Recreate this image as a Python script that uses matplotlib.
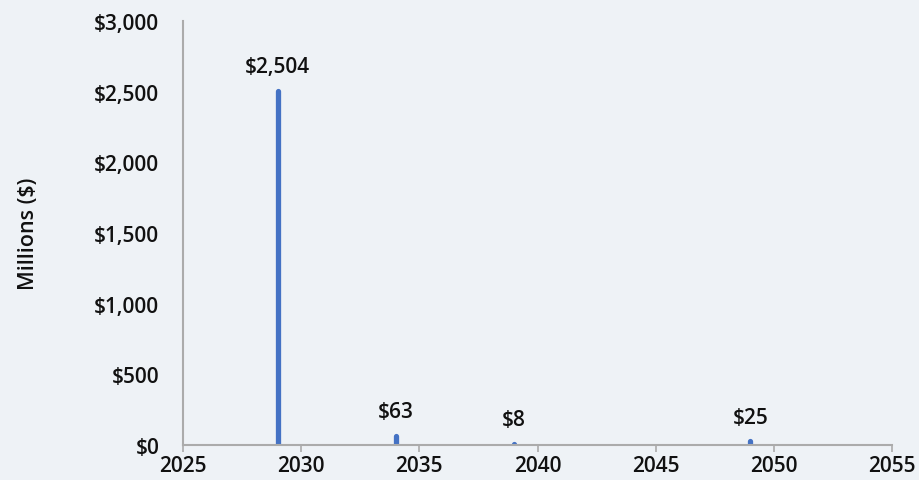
import matplotlib
matplotlib.use('Agg')
import matplotlib.pyplot as plt
from matplotlib.ticker import FuncFormatter

years = [2029, 2034, 2039, 2049]
values = [2504, 63, 8, 25]
labels = ['$2,504', '$63', '$8', '$25']

BG = '#eef2f6'
BAR = '#4472c4'
AXIS = '#ababab'
TEXT = '#111111'

plt.rcParams['font.family'] = ['Open Sans', 'DejaVu Sans']
plt.rcParams['font.weight'] = 'semibold'

fig = plt.figure(figsize=(9.2, 4.81), dpi=100, facecolor=BG)
ax = fig.add_axes([0.1989, 0.0728, 0.7707, 0.8814], facecolor=BG)

bars = ax.vlines(years, 0, values, colors=BAR, linewidth=3.8)
bars.set_capstyle('round')

for x, v, lab in zip(years, values, labels):
    ax.annotate(lab, xy=(x, v), xytext=(0, 10), textcoords='offset points',
                ha='center', va='bottom', fontsize=15, color=TEXT)

ax.set_xlim(2025, 2055)
ax.set_ylim(0, 3000)
ax.set_xticks(range(2025, 2056, 5))
ax.set_yticks(range(0, 3001, 500))
ax.yaxis.set_major_formatter(FuncFormatter(lambda v, p: '${:,.0f}'.format(v)))

for s in ['top', 'right']:
    ax.spines[s].set_visible(False)
for s in ['left', 'bottom']:
    ax.spines[s].set_color(AXIS)
    ax.spines[s].set_linewidth(1.5)

ax.tick_params(axis='y', length=0, pad=17, labelsize=15, labelcolor=TEXT)
ax.tick_params(axis='x', length=5, width=1.2, color=AXIS, pad=2, labelsize=15, labelcolor=TEXT)

ax.set_ylabel('Millions ($)', fontsize=15.5, fontweight='semibold', color=TEXT, labelpad=40)

fig.savefig('out.png', dpi=100, facecolor=BG)
